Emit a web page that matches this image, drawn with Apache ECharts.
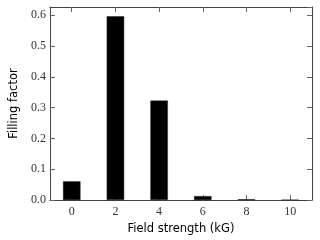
<!DOCTYPE html>
<html><head><meta charset="utf-8">
<script src="https://cdn.jsdelivr.net/npm/echarts@6/dist/echarts.min.js"></script>
<style>html,body{margin:0;padding:0;background:#fff}#c{width:320px;height:240px}</style>
</head><body><div id="c"></div>
<script>
const categories = ['0', '2', '4', '6', '8', '10'];
const fillingFactor = [0.061, 0.597, 0.323, 0.013, 0.003, 0.0008];
const yTicks = [0, 0.1, 0.2, 0.3, 0.4, 0.5, 0.6];

const chart = echarts.init(document.getElementById('c'), null, {renderer: 'canvas'});
const lineCol = '#444';
const tickStyle = {show: true, inside: true, length: 5, lineStyle: {color: '#666', width: 1}};
chart.setOption({
  animation: false,
  grid: {left: 40, right: 8, top: 7, bottom: 38, show: false},
  xAxis: [{
    type: 'category', data: categories, position: 'bottom',
    name: 'Field strength (kG)', nameLocation: 'middle', nameGap: 22,
    nameTextStyle: {fontFamily: 'DejaVu Sans', fontSize: 11.5, color: '#000'},
    axisLine: {show: true, onZero: false, lineStyle: {color: lineCol, width: 1}},
    axisTick: Object.assign({alignWithLabel: true}, tickStyle),
    axisLabel: {fontFamily: 'Liberation Serif', fontSize: 12, color: '#333', margin: 6},
    splitLine: {show: false}
  }, {
    type: 'category', data: categories, position: 'top',
    axisLine: {show: true, onZero: false, lineStyle: {color: lineCol, width: 1}},
    axisTick: Object.assign({alignWithLabel: true}, tickStyle),
    axisLabel: {show: false}, splitLine: {show: false}
  }],
  yAxis: [{
    type: 'value', min: 0, max: 0.627, interval: 0.1, position: 'left',
    name: 'Filling factor', nameLocation: 'middle', nameGap: 27,
    nameTextStyle: {fontFamily: 'DejaVu Sans', fontSize: 11.5, color: '#000'},
    axisLine: {show: true, onZero: false, lineStyle: {color: lineCol, width: 1}},
    axisTick: tickStyle,
    axisLabel: {fontFamily: 'Liberation Serif', fontSize: 12, color: '#333', margin: 4, showMaxLabel: false,
      formatter: v => yTicks.some(t => Math.abs(t - v) < 1e-9) ? v.toFixed(1) : ''},
    splitLine: {show: false}
  }, {
    type: 'value', min: 0, max: 0.627, interval: 0.1, position: 'right',
    axisLine: {show: true, onZero: false, lineStyle: {color: lineCol, width: 1}},
    axisTick: tickStyle, axisLabel: {show: false}, splitLine: {show: false}
  }],
  series: [{
    type: 'bar', data: fillingFactor, barWidth: '40%', xAxisIndex: 0, yAxisIndex: 0,
    itemStyle: {color: '#000', borderColor: '#222', borderWidth: 0.5}, z: 1
  }]
});
</script></body></html>
